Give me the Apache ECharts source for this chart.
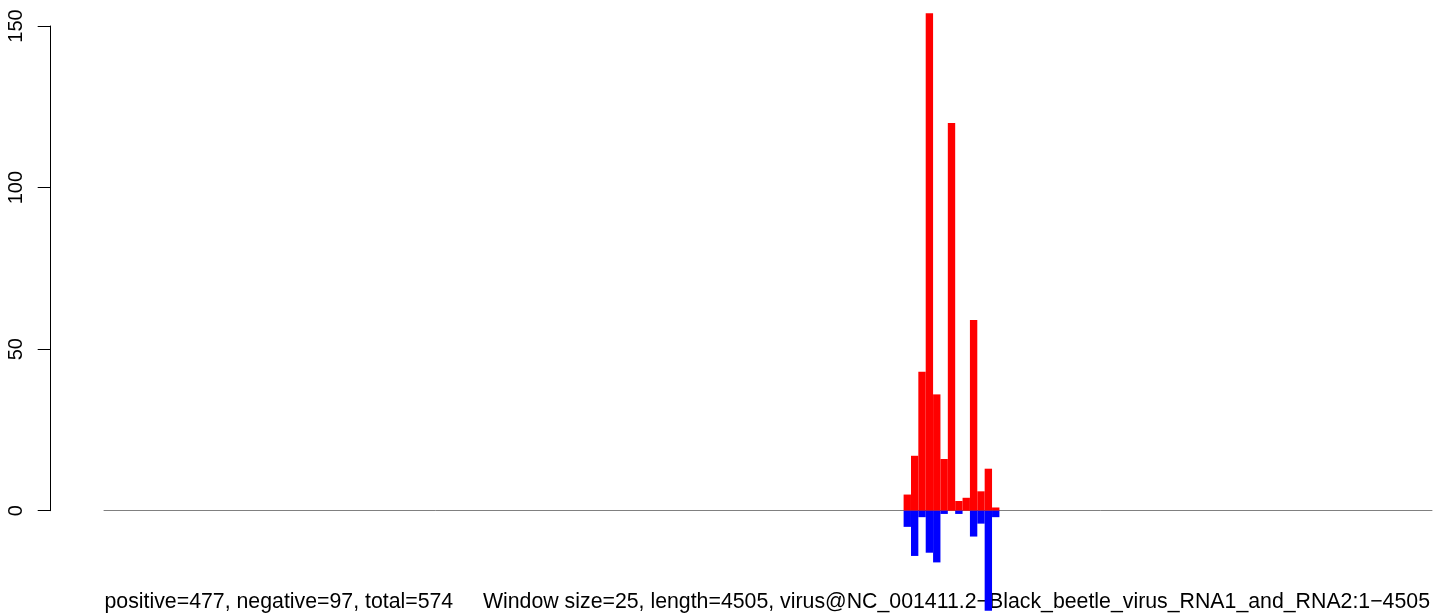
<!DOCTYPE html>
<html>
<head>
<meta charset="utf-8">
<script src="https://cdn.jsdelivr.net/npm/echarts@6/dist/echarts.min.js"></script>
<style>
html,body{margin:0;padding:0;background:#fff;}
#chart{width:1444px;height:615px;}
</style>
</head>
<body>
<div id="chart"></div>
<script>
// ---- data ----
const positions = [2725, 2750, 2775, 2800, 2825, 2850, 2875, 2900, 2925, 2950, 2975, 3000, 3025];
const positiveCounts = [5, 17, 43, 154, 36, 16, 120, 3, 4, 59, 6, 13, 1];
const negativeCounts = [-5, -14, -2, -13, -16, -1, 0, -1, 0, -8, -4, -31, -2];
const yTickValues = [0, 50, 100, 150];
const genomeLength = 4505;
const summaryText = "positive=477, negative=97, total=574";
const infoText = "Window size=25, length=4505, virus@NC_001411.2\u2212Black_beetle_virus_RNA1_and_RNA2:1\u22124505";

const FONT = "'Liberation Sans', Arial, Helvetica, sans-serif";
const chart = echarts.init(document.getElementById('chart'), null, {renderer: 'canvas'});

const posData = positions.map((p, i) => [p, positiveCounts[i]]);
const negData = positions.map((p, i) => [p, negativeCounts[i]]);

const option = {
  animation: false,
  backgroundColor: '#ffffff',
  grid: [
    {left: 104, right: 12, top: 9.9, height: 604.2, containLabel: false},
    {left: 50.7, top: 26, height: 484.7, width: 10, containLabel: false}
  ],
  xAxis: [
    {
      type: 'value', gridIndex: 0, min: 0, max: genomeLength,
      axisLine: {show: true, onZero: true, lineStyle: {color: '#808080', width: 1}},
      axisTick: {show: false}, axisLabel: {show: false}, splitLine: {show: false}
    },
    {
      type: 'value', gridIndex: 1, min: 0, max: 1, show: false
    }
  ],
  yAxis: [
    {
      type: 'value', gridIndex: 0, min: -32, max: 155, show: false,
      splitLine: {show: false}
    },
    {
      type: 'value', gridIndex: 1, min: 0, max: 150, interval: 50,
      axisLine: {show: true, lineStyle: {color: '#000', width: 1}},
      axisTick: {show: true, length: 13, lineStyle: {color: '#000', width: 1}, customValues: yTickValues},
      axisLabel: {
        show: true, rotate: 90, margin: 24, color: '#000',
        fontFamily: FONT, fontSize: 20, customValues: yTickValues
      },
      splitLine: {show: false}
    }
  ],
  series: [
    {
      type: 'bar', name: 'positive', xAxisIndex: 0, yAxisIndex: 0,
      data: posData, barWidth: 7.37, barGap: '-100%', clip: false,
      itemStyle: {color: '#ff0000'}, emphasis: {disabled: true}, silent: true
    },
    {
      type: 'bar', name: 'negative', xAxisIndex: 0, yAxisIndex: 0,
      data: negData, barWidth: 7.37, barGap: '-100%', clip: false,
      itemStyle: {color: '#0000ff'}, emphasis: {disabled: true}, silent: true
    }
  ],
  graphic: [
    {
      type: 'text', left: 104.5, top: 592,
      style: {text: summaryText, fontFamily: FONT, fontSize: 21.3, fill: '#000'}
    },
    {
      type: 'text', right: 14, top: 592,
      style: {text: infoText, fontFamily: FONT, fontSize: 21.3, fill: '#000'}
    }
  ]
};
chart.setOption(option);
</script>
</body>
</html>
